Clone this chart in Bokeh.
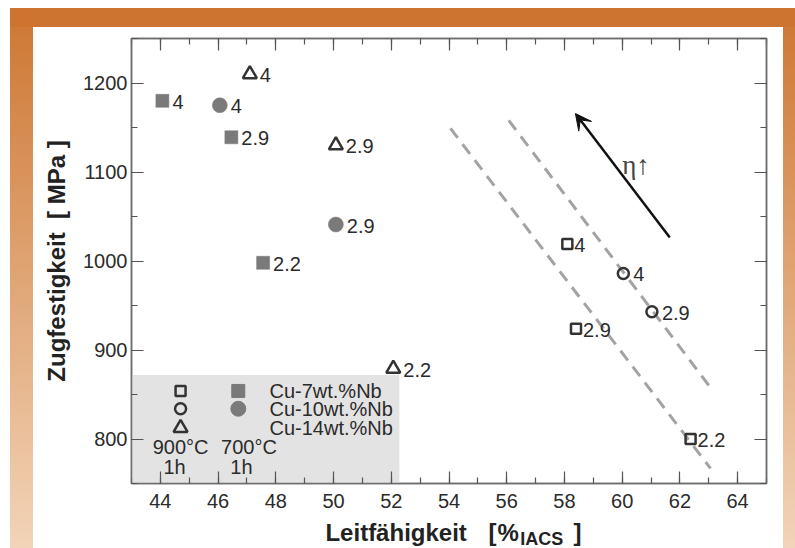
from bokeh.plotting import figure
from bokeh.layouts import column
from bokeh.models import (ColumnDataSource, LinearAxis, SingleIntervalTicker,
                          Arrow, VeeHead, Range1d, CustomLabelingPolicy)
from bokeh.core.properties import value
from bokeh.embed import file_html
from bokeh.resources import INLINE

# ---------------- data ----------------
# 900 °C / 1h  (open symbols)
sq_open_x = [58.10, 58.40, 62.37]
sq_open_y = [1019, 924, 800]
sq_open_lbl = ["4", "2.9", "2.2"]
ci_open_x = [60.04, 61.03]
ci_open_y = [986, 943]
ci_open_lbl = ["4", "2.9"]
tri_open_x = [47.10, 50.08, 52.07]
tri_open_y = [1210, 1130, 879]
tri_open_lbl = ["4", "2.9", "2.2"]
# 700 °C / 1h  (filled symbols)
sq_fill_x = [44.07, 46.46, 47.56]
sq_fill_y = [1180, 1139, 998]
sq_fill_lbl = ["4", "2.9", "2.2"]
ci_fill_x = [46.06, 50.08]
ci_fill_y = [1175, 1041]
ci_fill_lbl = ["4", "2.9"]

# guide lines and eta arrow
guide1_x = [54.05, 63.06]
guide1_y = [1149, 767]
guide2_x = [56.07, 63.03]
guide2_y = [1158, 859]
arrow_x = [61.65, 58.38]
arrow_y = [1026.5, 1165.7]

legend_labels = ["Cu-7wt.%Nb", "Cu-10wt.%Nb", "Cu-14wt.%Nb"]
temp_labels = ["900°C", "700°C"]
time_labels = ["1h", "1h"]

x_range = (43, 65)
y_range = (750, 1250)

FONT = "Liberation Sans"
TXT = "#2b2b2b"
GRAY = "#7a7a7a"
DARK = "#333333"

xr = Range1d(*x_range)
p = figure(width=795, height=518, output_backend="svg", toolbar_location=None,
           x_range=xr, y_range=Range1d(*y_range),
           min_border_left=131, min_border_right=29, min_border_top=38, min_border_bottom=35)
p.border_fill_color = None
p.background_fill_color = "white"
p.outline_line_color = "#6e6e6e"
p.outline_line_width = 1.5
p.grid.visible = False

xt = SingleIntervalTicker(interval=2, num_minor_ticks=2)
yt = SingleIntervalTicker(interval=100, num_minor_ticks=2)

no_labels = CustomLabelingPolicy(code="""
const all = [...indices]
for (const i of all) indices.unset(i)
return indices
""")


def style_axis(ax, show_labels):
    ax.axis_line_color = "#6e6e6e"
    ax.axis_line_width = 1.5
    ax.major_tick_in = 12
    ax.major_tick_out = 0
    ax.minor_tick_in = 6
    ax.minor_tick_out = 0
    ax.major_tick_line_color = "#555555"
    ax.minor_tick_line_color = "#555555"
    ax.major_tick_line_width = 1.2
    ax.minor_tick_line_width = 1.2
    ax.major_label_text_font = FONT
    ax.major_label_text_color = TXT
    if show_labels:
        ax.major_label_text_font_size = "20px"
    else:
        ax.major_label_text_font_size = "1px"
        ax.major_label_policy = no_labels
        ax.major_label_standoff = 0


p.xaxis.ticker = xt
p.yaxis.ticker = yt
style_axis(p.xaxis[0], True)
style_axis(p.yaxis[0], True)
p.xaxis.major_label_standoff = 10
p.yaxis.major_label_standoff = 4
p.yaxis.axis_label = "Zugfestigkeit\u00a0\u00a0[\u00a0MPa\u00a0]"
p.yaxis.axis_label_text_font = FONT
p.yaxis.axis_label_text_font_style = "bold"
p.yaxis.axis_label_text_font_size = "24px"
p.yaxis.axis_label_text_color = "#222222"
p.yaxis.axis_label_standoff = 10

top_ax = LinearAxis(ticker=xt)
right_ax = LinearAxis(ticker=yt)
style_axis(top_ax, False)
style_axis(right_ax, False)
p.add_layout(top_ax, "above")
p.add_layout(right_ax, "right")

# legend background box
p.quad(left=[43], right=[52.28], bottom=[750], top=[872],
       fill_color="#e3e3e3", line_color=None)

# guide lines
p.line(guide1_x, guide1_y, line_color="#a3a3a3", line_width=3, line_dash="12 8")
p.line(guide2_x, guide2_y, line_color="#a3a3a3", line_width=3, line_dash="12 8")

# eta arrow
p.add_layout(Arrow(x_start=arrow_x[0], y_start=arrow_y[0], x_end=arrow_x[1], y_end=arrow_y[1],
                   line_color="#111111", line_width=2.5,
                   end=VeeHead(size=16, fill_color="#111111", line_color="#111111", line_width=1)))
p.text(x=[60.0], y=[1107.6], text=["η↑"], text_font=value("'Liberation Serif', 'DejaVu Sans'"),
       text_font_size="27px", text_color="#444444", text_baseline="alphabetic")


def series(xs, ys, lbls, marker, size, filled, xoff):
    src = ColumnDataSource(dict(x=xs, y=ys, t=lbls))
    if filled:
        p.scatter("x", "y", source=src, marker=marker, size=size,
                  fill_color=GRAY, line_color=GRAY, line_width=0.5)
    else:
        p.scatter("x", "y", source=src, marker=marker, size=size,
                  fill_color=None, line_color=DARK, line_width=2.5)
    p.text("x", "y", text="t", source=src, x_offset=xoff, y_offset=1,
           text_font=value(FONT), text_font_size="20px", text_color=TXT,
           text_align="left", text_baseline="middle")


series(sq_fill_x, sq_fill_y, sq_fill_lbl, "square", 13, True, 10)
series(ci_fill_x, ci_fill_y, ci_fill_lbl, "circle", 15, True, 11)
series(tri_open_x, tri_open_y, tri_open_lbl, "triangle", 14, False, 10)
series(sq_open_x, sq_open_y, sq_open_lbl, "square", 10, False, 7)
series(ci_open_x, ci_open_y, ci_open_lbl, "circle", 11, False, 10)

# ---------------- custom legend ----------------
leg_rows_y = [854, 834, 812.5]
p.scatter([44.70], [leg_rows_y[0]], marker="square", size=10, fill_color=None, line_color=DARK, line_width=2.5)
p.scatter([44.70], [leg_rows_y[1]], marker="circle", size=11, fill_color=None, line_color=DARK, line_width=2.5)
p.scatter([44.70], [leg_rows_y[2]], marker="triangle", size=14, fill_color=None, line_color=DARK, line_width=2.5)
p.scatter([46.70], [leg_rows_y[0]], marker="square", size=13, fill_color=GRAY, line_color=GRAY)
p.scatter([46.70], [leg_rows_y[1]], marker="circle", size=15, fill_color=GRAY, line_color=GRAY)
p.text(x=[47.78] * 3, y=leg_rows_y, text=legend_labels, text_font=value(FONT),
       text_font_size="20px", text_color=TXT, text_baseline="middle", text_align="left")
p.text(x=[44.70, 47.07], y=[791, 791], text=temp_labels, text_font=value(FONT),
       text_font_size="20px", text_color=TXT, text_baseline="middle", text_align="center")
p.text(x=[44.49, 46.81], y=[768.6, 768.6], text=time_labels, text_font=value(FONT),
       text_font_size="20px", text_color=TXT, text_baseline="middle", text_align="center")

# ---------------- x axis title strip (with subscript) ----------------
p2 = figure(width=795, height=30, output_backend="svg", toolbar_location=None, title=None,
            x_range=xr, y_range=Range1d(30, 0),
            min_border_left=131, min_border_right=29, min_border_top=0, min_border_bottom=0)
p2.axis.visible = False
p2.grid.visible = False
p2.outline_line_color = None
p2.border_fill_color = None
p2.background_fill_color = None

title_parts = ["Leitfähigkeit", "[", "%", "IACS", "]"]
title_x = [49.72, 55.37, 55.68, 56.47, 58.31]
title_y = [13.5, 13.5, 13.5, 20.0, 13.5]
title_size = ["24px", "24px", "24px", "18px", "24px"]
p2.text(x=title_x, y=title_y, text=title_parts, text_font=value(FONT),
        text_font_style="bold", text_font_size=title_size, text_color="#222222",
        text_align="left", text_baseline="alphabetic")

layout = column(p, p2, spacing=0)
layout.styles = {
    "background": (
        "linear-gradient(#ffffff,#ffffff) 0px 0px / 10px 100% no-repeat, "
        "linear-gradient(#ffffff,#ffffff) 0px 0px / 100% 8px no-repeat, "
        "linear-gradient(#ffffff,#ffffff) 33px 27px / 750px 100% no-repeat, "
        "linear-gradient(#cd7530,#cd7530) 0px 0px / 100% 27px no-repeat, "
        "linear-gradient(to bottom, #cd7530 0%, #f2d4b8 100%)"
    )
}

open("out.html", "w").write(file_html(layout, INLINE))
